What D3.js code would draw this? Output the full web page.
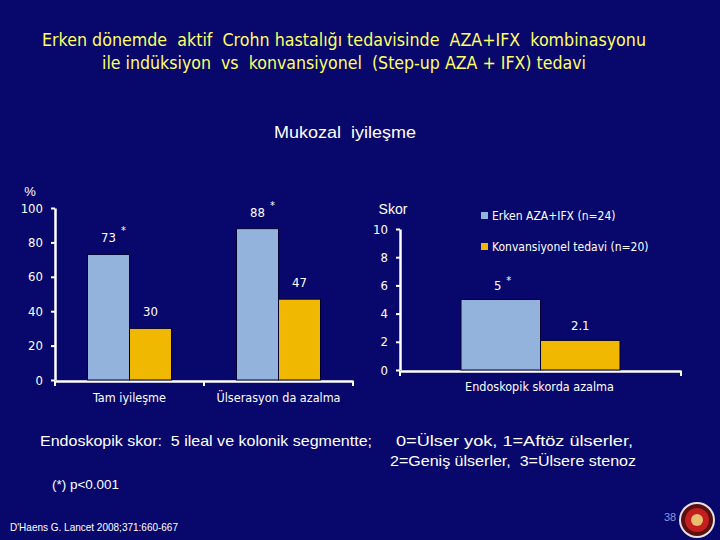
<!DOCTYPE html>
<html>
<head>
<meta charset="utf-8">
<script src="https://cdn.jsdelivr.net/npm/d3@7"></script>
<style>
  body { margin: 0; background: #08086c; }
  svg { display: block; }
  text { white-space: pre; }
</style>
</head>
<body>
<div id="chart"></div>
<script>
// data
const pctCategories = ["Tam iyileşme", "Ülserasyon da azalma"];
const pctAzaIfx = [73, 88];
const pctConv = [30, 47];
const pctStars = [true, true];
const pctTicks = [0, 20, 40, 60, 80, 100];

const scoreCategories = ["Endoskopik skorda azalma"];
const scoreAzaIfx = [5];
const scoreConv = [2.1];
const scoreLabels = ["5", "2.1"];
const scoreTicks = [0, 2, 4, 6, 8, 10];

const seriesNames = ["Erken AZA+IFX (n=24)", "Konvansiyonel tedavi (n=20)"];
const colors = ["#93b3dc", "#f0b800"];

const width = 720, height = 540;
const condensed = "'DejaVu Sans Condensed', 'Open Sans', sans-serif";
const arial = "'Liberation Sans', Arial, sans-serif";

const svg = d3.select("#chart").append("svg")
  .attr("width", width).attr("height", height);

svg.append("rect").attr("width", width).attr("height", height).attr("fill", "#08086c");

// text with a fixed width like the slide
function fitText(x, y, str, w, size, family, fill) {
  return svg.append("text").attr("x", x).attr("y", y)
    .attr("fill", fill || "white")
    .attr("textLength", w).attr("lengthAdjust", "spacingAndGlyphs")
    .style("font-family", family).style("font-size", size + "px")
    .text(str);
}

// title
fitText(42, 46, "Erken dönemde  aktif  Crohn hastalığı tedavisinde  AZA+IFX  kombinasyonu",
  604, 17, condensed, "#ffff66");
fitText(102, 69, "ile indüksiyon  vs  konvansiyonel  (Step-up AZA + IFX) tedavi",
  484, 17, condensed, "#ffff66");

fitText(274, 138, "Mukozal  iyileşme", 142, 16, arial);

// helper for white axes
function styleAxis(g) {
  g.selectAll("path").attr("stroke", "white").attr("stroke-width", 2.5);
  g.selectAll("line").attr("stroke", "white").attr("stroke-width", 2);
  g.selectAll("text").attr("fill", "white")
    .style("font-family", condensed).style("font-size", "13px");
}

// ---- left chart: percent
const y1 = d3.scaleLinear().domain([0, 100]).range([380, 208]);
const x1 = d3.scaleBand().domain(pctCategories).range([55, 353]);
const sub1 = d3.scaleBand().domain([0, 1]).range([0, 84]);

const yAx1 = svg.append("g").attr("transform", "translate(55,0)")
  .call(d3.axisLeft(y1).tickValues(pctTicks).tickSize(4).tickSizeOuter(0).tickPadding(8));
styleAxis(yAx1);

const xAx1 = svg.append("g").attr("transform", "translate(0,381)")
  .call(d3.axisBottom(x1).tickSize(0).tickFormat(""));
styleAxis(xAx1);
// category separator ticks
svg.selectAll("line.sep1").data([55, 204, 353]).enter().append("line")
  .attr("x1", d => d).attr("x2", d => d).attr("y1", 381).attr("y2", 386)
  .attr("stroke", "white").attr("stroke-width", 2);

svg.append("text").attr("x", 30).attr("y", 196).attr("text-anchor", "middle")
  .attr("fill", "white").style("font-family", arial)
  .style("font-size", "13px").text("%");

pctCategories.forEach((c, i) => {
  const x0 = x1(c) + (x1.bandwidth() - 84) / 2;
  [pctAzaIfx[i], pctConv[i]].forEach((v, s) => {
    svg.append("rect")
      .attr("x", x0 + sub1(s)).attr("y", y1(v))
      .attr("width", sub1.bandwidth()).attr("height", y1(0) - y1(v))
      .attr("fill", colors[s]).attr("stroke", "#000030").attr("stroke-width", 1);
    svg.append("text")
      .attr("x", x0 + sub1(s) + sub1.bandwidth() / 2).attr("y", y1(v) - 12)
      .attr("text-anchor", "middle").attr("fill", "white")
      .style("font-family", condensed).style("font-size", "13px")
      .text(v);
    if (s === 0 && pctStars[i]) {
      svg.append("text")
        .attr("x", x0 + sub1(s) + sub1.bandwidth() / 2 + 15).attr("y", y1(v) - 20)
        .attr("text-anchor", "middle").attr("fill", "white")
        .style("font-family", condensed).style("font-size", "11px").text("*");
    }
  });
  svg.append("text")
    .attr("x", x1(c) + x1.bandwidth() / 2).attr("y", 402)
    .attr("text-anchor", "middle").attr("fill", "white")
    .style("font-family", condensed).style("font-size", "12.5px")
    .text(c);
});

// ---- right chart: score
const y2 = d3.scaleLinear().domain([0, 10]).range([370, 229]);
const x2 = d3.scaleBand().domain(scoreCategories).range([400, 681]);
const sub2 = d3.scaleBand().domain([0, 1]).range([0, 159]);

const yAx2 = svg.append("g").attr("transform", "translate(400,0)")
  .call(d3.axisLeft(y2).tickValues(scoreTicks).tickSize(4).tickSizeOuter(0).tickPadding(8));
styleAxis(yAx2);

const xAx2 = svg.append("g").attr("transform", "translate(0,371)")
  .call(d3.axisBottom(x2).tickSize(0).tickFormat(""));
styleAxis(xAx2);
svg.selectAll("line.sep2").data([400, 681]).enter().append("line")
  .attr("x1", d => d).attr("x2", d => d).attr("y1", 371).attr("y2", 376)
  .attr("stroke", "white").attr("stroke-width", 2);

svg.append("text").attr("x", 393).attr("y", 214).attr("text-anchor", "middle")
  .attr("fill", "white").style("font-family", arial)
  .style("font-size", "14px").text("Skor");

scoreCategories.forEach((c, i) => {
  const x0 = x2(c) + (x2.bandwidth() - 159) / 2;
  [scoreAzaIfx[i], scoreConv[i]].forEach((v, s) => {
    svg.append("rect")
      .attr("x", x0 + sub2(s)).attr("y", y2(v))
      .attr("width", sub2.bandwidth()).attr("height", y2(0) - y2(v))
      .attr("fill", colors[s]).attr("stroke", "#000030").attr("stroke-width", 1);
    svg.append("text")
      .attr("x", x0 + sub2(s) + sub2.bandwidth() / 2 + (s === 0 ? -3 : 0)).attr("y", y2(v) - 10)
      .attr("text-anchor", "middle").attr("fill", "white")
      .style("font-family", condensed).style("font-size", "13px")
      .text(scoreLabels[s]);
    if (s === 0) {
      svg.append("text")
        .attr("x", x0 + sub2(s) + sub2.bandwidth() / 2 + 8).attr("y", y2(v) - 16)
        .attr("text-anchor", "middle").attr("fill", "white")
        .style("font-family", condensed).style("font-size", "11px").text("*");
    }
  });
  svg.append("text")
    .attr("x", x2(c) + x2.bandwidth() / 2 - 1).attr("y", 391)
    .attr("text-anchor", "middle").attr("fill", "white")
    .style("font-family", condensed).style("font-size", "12.5px")
    .text(c);
});

// legend
seriesNames.forEach((n, i) => {
  const ly = 216 + i * 31;
  svg.append("rect").attr("x", 481).attr("y", ly - 4).attr("width", 7).attr("height", 7)
    .attr("fill", colors[i]);
  svg.append("text").attr("x", 492).attr("y", ly + 4)
    .attr("fill", "white").style("font-family", condensed).style("font-size", "12px")
    .text(n);
});

// notes
fitText(40, 446, "Endoskopik skor:  5 ileal ve kolonik segmentte;", 332, 15, arial);
fitText(396, 446, "0=Ülser yok, 1=Aftöz ülserler,", 237, 15, arial);
fitText(390, 466, "2=Geniş ülserler,  3=Ülsere stenoz", 246, 15, arial);

fitText(52, 489, "(*) p<0.001", 67, 13, arial);
fitText(10, 531, "D'Haens G. Lancet 2008;371:660-667", 168, 11, arial);

svg.append("text").attr("x", 664).attr("y", 521).attr("fill", "#8a9ad8")
  .style("font-family", arial).style("font-size", "11px").text("38");

// seal
svg.append("circle").attr("cx", 697).attr("cy", 520).attr("r", 18).attr("fill", "#e8e0e0");
svg.append("circle").attr("cx", 697).attr("cy", 520).attr("r", 16).attr("fill", "#5a1010");
svg.append("circle").attr("cx", 697).attr("cy", 520).attr("r", 12).attr("fill", "#c41e1e");
svg.append("circle").attr("cx", 697).attr("cy", 520).attr("r", 6).attr("fill", "#e8c070");
</script>
</body>
</html>
